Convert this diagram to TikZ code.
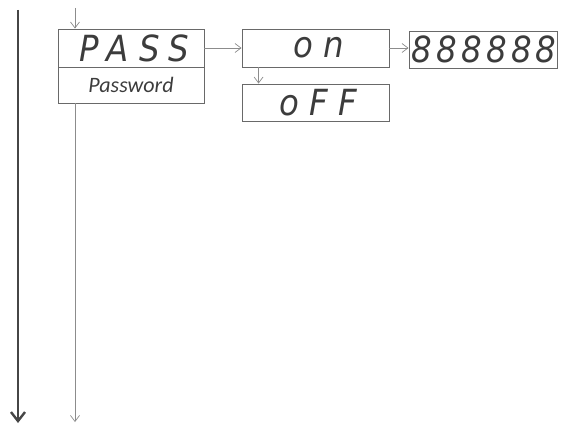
\documentclass[tikz,border=0pt]{standalone}
\usepackage{fontspec}
\setmainfont{Liberation Sans}
\newfontfamily\segfont[LetterSpace=12]{DejaVu Sans Condensed}
\newfontfamily\segwide[LetterSpace=28]{DejaVu Sans Condensed}
\newfontfamily\pwfont{Carlito}
\usetikzlibrary{arrows.meta}
\definecolor{boxline}{RGB}{105,105,105}
\definecolor{thinline}{RGB}{140,140,140}
\definecolor{thickline}{RGB}{70,70,70}
\definecolor{segcol}{RGB}{60,60,60}
\tikzset{
  box/.style={draw=boxline, line width=0.9pt, rectangle, inner sep=0pt, anchor=center},
  seg/.style={font=\segfont\itshape\fontsize{36}{36}\selectfont, text=segcol},
  segw/.style={font=\segwide\itshape\fontsize{36}{36}\selectfont, text=segcol},
  thinarrow/.style={draw=thinline, line width=0.9pt, -{Straight Barb[length=6pt,width=9pt,line width=0.7pt]}},
  thickarrow/.style={draw=thickline, line width=2.6pt, -{Straight Barb[length=9pt,width=14pt,line width=2.4pt]}}
}
\begin{document}
\begin{tikzpicture}[x=1pt,y=-1pt]
\useasboundingbox (0,0) rectangle (565,428);
% nodes
\node[box, minimum width=146pt, minimum height=38pt] (pass) at (131,48) {};
\node[segw] (passtxt) at ([xshift=3pt]pass.center) {PASS};
\node[box, minimum width=146pt, minimum height=36pt] (pw) at (131,85) {};
\node[font=\pwfont\itshape\fontsize{22}{22}\selectfont, text=segcol] (pwtxt) at (pw.center) {Password};
\node[box, minimum width=147pt, minimum height=38pt] (on) at (315.5,48) {};
\node[segw] (ontxt) at ([xshift=3pt]on.center) {on};
\node[box, minimum width=147pt, minimum height=37pt] (off) at (315.5,102.5) {};
\node[segw] (offtxt) at ([xshift=3pt]off.center) {oFF};
\node[box, minimum width=148pt, minimum height=37pt] (eight) at (483,49.5) {};
\node[seg] (eighttxt) at ([xshift=1pt]eight.center) {888888};
% coordinates
\coordinate (in) at (75,8);
\coordinate (down) at (75,422);
\coordinate (ltop) at (18,10);
\coordinate (lbot) at (18,423);
% connectors
\draw[thickarrow] (ltop) -- (lbot);
\draw[thinarrow] (in) -- (in |- pass.north);
\draw[thinarrow] (pw.south -| down) -- (down);
\draw[thinarrow] (pass.east) -- (on.west);
\draw[thinarrow] (on.east) -- (on.east -| eight.west);
\draw[thinarrow] ([xshift=17pt]on.south west) -- ([xshift=17pt]off.north west);
\end{tikzpicture}
\end{document}
